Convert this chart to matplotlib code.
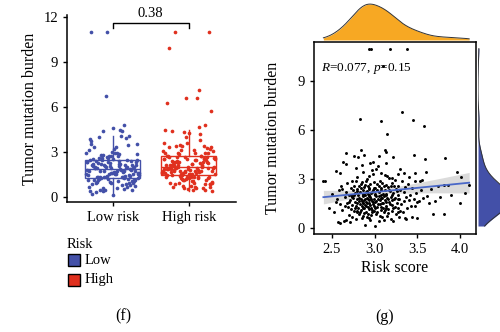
import numpy as np
import matplotlib
matplotlib.use("Agg")
import matplotlib.pyplot as plt
from matplotlib.patches import Rectangle

plt.rcParams['font.family'] = ['Liberation Serif', 'DejaVu Serif']
plt.rcParams['mathtext.fontset'] = 'custom'
plt.rcParams['mathtext.rm'] = 'Liberation Serif'
plt.rcParams['mathtext.it'] = 'Liberation Serif:italic'

# ---------------- data ----------------
groups = ["Low risk", "High risk"]
legend_labels = ["Low", "High"]
p_value_text = "0.38"
corr_text = "$R$=0.077, $p$=0.15"

low_risk_score = [
    2.40, 2.42, 2.47, 2.50, 2.52, 2.55, 2.56, 2.57, 2.58, 2.59, 2.60, 2.60,
    2.61, 2.62, 2.63, 2.64, 2.65, 2.66, 2.66, 2.67, 2.67, 2.68, 2.68, 2.69, 2.70, 2.70,
    2.71, 2.71, 2.72, 2.72, 2.73, 2.73, 2.74, 2.74, 2.75, 2.75, 2.76, 2.76, 2.77, 2.77,
    2.78, 2.78, 2.78, 2.79, 2.79, 2.80, 2.80, 2.80,
    2.81, 2.81, 2.81, 2.82, 2.82, 2.82, 2.83, 2.83, 2.83, 2.84, 2.84, 2.84, 2.85, 2.85,
    2.85, 2.86, 2.86, 2.86, 2.87, 2.87, 2.87, 2.88, 2.88, 2.88, 2.88, 2.89, 2.89, 2.89,
    2.90, 2.90, 2.90,
    2.91, 2.91, 2.91, 2.92, 2.92, 2.92, 2.93, 2.93, 2.93, 2.94, 2.94, 2.94, 2.95, 2.95,
    2.95, 2.96, 2.96, 2.96, 2.97, 2.97, 2.97, 2.98, 2.98, 2.98, 2.99, 2.99, 2.99, 3.00, 3.00,
    2.74, 2.76, 2.77, 2.79, 2.80, 2.82, 2.83, 2.84, 2.85, 2.85, 2.86, 2.87, 2.87, 2.88,
    2.89, 2.89, 2.90, 2.90, 2.91, 2.91, 2.92, 2.92, 2.93, 2.93, 2.94, 2.94, 2.95, 2.95,
    2.96, 2.96, 2.97, 2.97, 2.98, 2.98, 2.99, 2.99, 2.70, 2.72, 2.65, 2.62, 2.55, 2.78,
    2.84, 2.76,
]
low_tmb = [
    2.90, 2.85, 1.20, 2.10, 0.95, 3.50, 1.75, 0.39, 2.30, 3.35, 0.33, 1.45,
    2.60, 1.10, 4.06, 0.45, 1.90, 4.60, 2.20, 3.92, 0.49, 1.55, 2.75, 1.30, 0.80, 2.05,
    0.39, 1.70, 2.45, 1.15, 2.90, 1.95, 0.70, 1.40, 2.30, 1.85, 2.60, 1.05, 1.60, 2.15,
    0.55, 1.35, 2.85, 1.75, 2.40, 0.95, 1.50, 3.10,
    4.37, 1.25, 2.00, 1.65, 2.55, 0.85, 6.70, 1.45, 2.20, 1.10, 1.80, 2.70, 3.86, 1.35,
    0.60, 2.10, 1.55, 1.95, 3.45, 1.20, 2.35, 4.47, 1.70, 0.90, 2.50, 0.18, 1.40, 2.05,
    1.60, 2.90, 1.00,
    1.85, 2.25, 0.70, 1.30, 2.60, 1.75, 3.20, 1.15, 2.00, 11.0, 1.50, 2.40, 4.00, 0.50,
    1.90, 11.0, 1.25, 2.15, 3.55, 1.65, 0.95, 4.06, 2.30, 1.45, 1.80, 2.80, 1.05, 0.12, 2.05,
    1.90, 2.00, 1.25, 1.05, 2.25, 1.85, 1.00, 2.45, 1.65, 2.80, 0.75, 1.50, 2.00, 1.20,
    2.65, 1.80, 2.20, 1.35, 1.55, 3.00, 0.85, 2.10, 1.70, 2.45, 0.60, 1.95, 1.40, 2.70,
    1.75, 0.80, 2.20, 1.10, 1.60, 3.30, 2.45, 1.35, 1.60, 2.05, 1.35, 2.40, 1.60, 3.70,
    4.80, 4.40,
]

high_risk_score = [
    3.01, 3.01, 3.02, 3.02, 3.03, 3.03, 3.04, 3.04, 3.05, 3.05, 3.06, 3.06, 3.07, 3.07,
    3.08, 3.08, 3.09, 3.09, 3.10, 3.10, 3.10,
    3.11, 3.11, 3.12, 3.12, 3.13, 3.13, 3.14, 3.14, 3.15, 3.15, 3.15, 3.16, 3.16, 3.17,
    3.17, 3.18, 3.18, 3.19, 3.19, 3.20, 3.20,
    3.21, 3.21, 3.22, 3.22, 3.23, 3.24, 3.24, 3.25, 3.25, 3.26, 3.27, 3.27, 3.28, 3.28,
    3.29, 3.29, 3.30, 3.30,
    3.31, 3.32, 3.32, 3.33, 3.34, 3.34, 3.35, 3.36, 3.36, 3.37, 3.37, 3.38, 3.38, 3.39, 3.40,
    3.41, 3.42, 3.43, 3.44, 3.44, 3.45, 3.46, 3.46, 3.47, 3.48, 3.48, 3.49, 3.50, 3.50,
    3.52, 3.53, 3.54, 3.56, 3.57, 3.58, 3.59, 3.60,
    3.62, 3.64, 3.66, 3.68, 3.71, 3.74, 3.77, 3.81, 3.82, 3.83, 3.86, 3.90, 3.97, 4.00,
    4.01, 4.06, 4.11,
    3.01, 3.01, 3.02, 3.03, 3.03, 3.04, 3.05, 3.05, 3.06, 3.06, 3.07, 3.07, 3.08, 3.08,
    3.09, 3.09, 3.10, 3.11, 3.11, 3.12, 3.12, 3.13, 3.13, 3.14, 3.14, 3.15, 3.16, 3.16,
    3.17, 3.18, 3.19, 3.20, 3.21, 3.22, 3.23, 3.24, 3.26, 3.27, 3.28, 3.30, 3.05, 3.12,
    3.22, 3.02,
]
high_tmb = [
    1.60, 2.45, 0.85, 1.95, 1.30, 2.70, 3.80, 1.75, 0.40, 2.20, 1.45, 2.90, 1.10, 1.85,
    6.57, 2.35, 0.65, 1.55, 9.90, 2.10, 1.25,
    2.60, 0.95, 1.70, 3.25, 3.96, 1.35, 4.67, 2.00, 5.75, 0.75, 1.85, 2.50, 1.15, 3.05,
    1.60, 11.0, 2.25, 0.55, 1.90, 2.75, 1.40,
    3.04, 1.05, 2.15, 0.45, 1.75, 2.95, 1.30, 2.40, 0.85, 1.55, 3.30, 2.05, 1.20, 2.60,
    0.70, 1.80, 2.30, 3.60,
    1.45, 7.10, 2.85, 1.00, 2.20, 1.65, 3.40, 0.60, 2.50, 0.57, 1.90, 11.0, 1.25, 2.70, 1.70,
    3.10, 2.00, 1.35, 0.65, 2.45, 6.60, 4.47, 1.80, 2.90, 3.35, 1.35, 2.15, 0.60, 1.60,
    1.65, 2.90, 2.35, 2.95, 1.85, 6.25, 4.22, 3.45,
    1.95, 1.50, 2.40, 0.86, 1.65, 2.55, 1.92, 2.63, 0.86, 4.27, 2.63, 2.02, 3.41, 1.55,
    3.10, 2.12, 2.63,
    1.20, 2.10, 1.65, 2.30, 0.95, 1.45, 1.95, 2.60, 0.75, 1.70, 2.45, 3.40, 1.30, 2.00,
    1.85, 2.75, 1.50, 1.95, 0.50, 2.30, 1.10, 2.65, 1.60, 1.25, 2.10, 3.20, 1.80, 0.90,
    2.35, 1.45, 2.55, 1.70, 2.00, 1.25, 2.55, 1.85, 2.25, 0.95, 1.75, 1.05, 4.40, 4.80,
    4.35, 3.60,
]

blue = "#4350A8"
red = "#E0301E"
orange = "#F7A823"
line_blue = "#4A68C8"

# ---------------- figure ----------------
W, H = 500, 332
fig = plt.figure(figsize=(W / 100, H / 100), dpi=100)


def fx(px):
    return px / W


def fy(py):
    return 1 - py / H


# ---- panel (f) ----
axf = fig.add_axes([fx(67), fy(202), fx(236) - fx(67), fy(15) - fy(202)])
data_f = [low_tmb, high_tmb]
cols = [blue, red]
for i, (vals, c) in enumerate(zip(data_f, cols)):
    bp = axf.boxplot([vals], positions=[i], widths=0.72, showfliers=False,
                     showcaps=False, patch_artist=True, whis=1.5)
    for b in bp['boxes']:
        b.set_facecolor('none')
        b.set_edgecolor(c)
        b.set_linewidth(1.0)
    for k in ('whiskers', 'medians'):
        for ln in bp[k]:
            ln.set_color(c)
            ln.set_linewidth(1.0)
    n = len(vals)
    jit = (((np.arange(n) * 0.6180339887) % 1.0) - 0.5) * 0.70
    axf.scatter(i + jit, vals, s=7, color=c, linewidths=0, zorder=3)

axf.set_xlim(-0.6, 1.62)
axf.set_ylim(-0.33, 12.1)
axf.set_xticks([0, 1])
axf.set_xticklabels(groups, fontsize=10.5)
axf.set_yticks([0, 3, 6, 9, 12])
axf.tick_params(labelsize=10.5, length=3, width=1)
for s in ('top', 'right'):
    axf.spines[s].set_visible(False)
for s in ('left', 'bottom'):
    axf.spines[s].set_linewidth(1.1)
axf.set_ylabel("Tumor mutation burden", fontsize=11.5, labelpad=4)
# significance bracket
axf.plot([0, 0, 1, 1], [11.25, 11.55, 11.55, 11.25], color='black', lw=1, clip_on=False)
axf.text(0.5, 11.8, p_value_text, ha='center', va='bottom', fontsize=10.5, clip_on=False)

# legend
fig.text(fx(67), fy(244), "Risk", ha='left', va='center', fontsize=10.5)
for j, (lab, c) in enumerate(zip(legend_labels, cols)):
    yc = 260 + 20 * j
    fig.patches.append(Rectangle((fx(67.5), fy(yc + 6)), fx(12), 12 / H, facecolor=c,
                                 edgecolor='black', linewidth=1, transform=fig.transFigure))
    fig.text(fx(85), fy(yc), lab, ha='left', va='center', fontsize=10.5)
fig.text(fx(123), fy(316), "(f)", ha='center', va='center', fontsize=11.5)

# ---- panel (g) ----
risk_all = np.array(low_risk_score + high_risk_score)
tmb_all = np.array(low_tmb + high_tmb)

axg = fig.add_axes([fx(314), fy(234), fx(476) - fx(314), fy(42) - fy(234)])
axg.scatter(risk_all, tmb_all, s=4.5, color='black', linewidths=0, zorder=3)
# linear fit with 95% CI
slope, intercept = np.polyfit(risk_all, tmb_all, 1)
xs = np.linspace(risk_all.min(), risk_all.max(), 100)
ys = intercept + slope * xs
n = len(risk_all)
resid = tmb_all - (intercept + slope * risk_all)
s_err = np.sqrt(np.sum(resid ** 2) / (n - 2))
se = s_err * np.sqrt(1 / n + (xs - risk_all.mean()) ** 2 / np.sum((risk_all - risk_all.mean()) ** 2))
axg.fill_between(xs, ys - 1.97 * se, ys + 1.97 * se, color='#D3D3D3', alpha=0.8, lw=0, zorder=2)
axg.plot(xs, ys, color=line_blue, lw=1.3, zorder=4)
axg.set_xlim(2.29, 4.19)
axg.set_ylim(-0.37, 11.4)
axg.set_xticks([2.5, 3.0, 3.5, 4.0])
axg.set_xticklabels(["2.5", "3.0", "3.5", "4.0"])
axg.set_yticks([0, 3, 6, 9])
axg.tick_params(labelsize=10.5, length=3, width=1)
for s in axg.spines.values():
    s.set_linewidth(1.1)
axg.set_xlabel("Risk score", fontsize=11.5, labelpad=3)
axg.set_ylabel("Tumor mutation burden", fontsize=11.5, labelpad=12)
axg.text(0.045, 0.86, corr_text, transform=axg.transAxes, ha='left', va='center', fontsize=9.5)
fig.text(fx(385), fy(317), "(g)", ha='center', va='center', fontsize=11.5)


def kde(v, grid):
    v = np.asarray(v)
    bw = 1.06 * v.std() * len(v) ** (-1 / 5)
    d = np.exp(-0.5 * ((grid[:, None] - v[None, :]) / bw) ** 2).sum(axis=1)
    return d / (len(v) * bw * np.sqrt(2 * np.pi))


# top marginal density
axt = fig.add_axes([fx(314), fy(40), fx(476) - fx(314), fy(3) - fy(40)])
gx = np.linspace(risk_all.min(), risk_all.max(), 300)
dx = kde(risk_all, gx)
axt.fill_between(gx, 0, dx, color=orange, lw=0)
axt.plot(gx, dx, color='#333333', lw=0.7)
axt.set_xlim(2.29, 4.19)
axt.set_ylim(0, dx.max() * 1.03)
axt.axis('off')

# right marginal density
axr = fig.add_axes([fx(478), fy(234), fx(34), fy(42) - fy(234)])
gy = np.linspace(tmb_all.min(), tmb_all.max(), 300)
dy = kde(tmb_all, gy)
axr.fill_betweenx(gy, 0, dy, color=blue, lw=0)
axr.plot(dy, gy, color='#333333', lw=0.7)
axr.set_ylim(-0.37, 11.4)
axr.set_xlim(0, dy.max() * 1.05)
axr.axis('off')

fig.savefig("out.png", dpi=100)
